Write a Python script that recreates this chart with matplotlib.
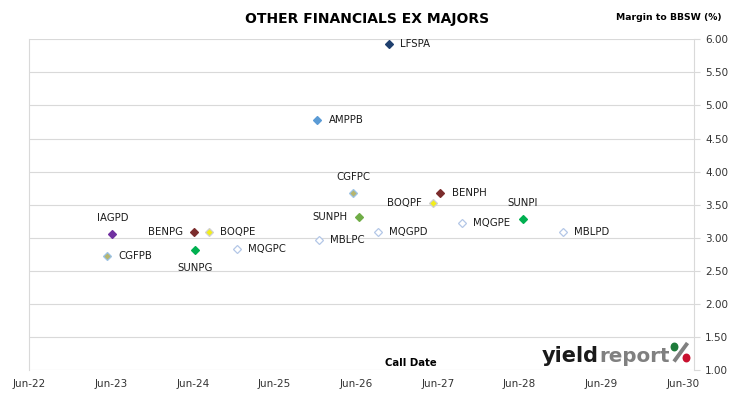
import matplotlib
matplotlib.use("Agg")
import matplotlib.pyplot as plt
import matplotlib.dates as mdates
from matplotlib.patches import Ellipse
from matplotlib.lines import Line2D
import datetime as dt

# ---- data ----
names = ["LFSPA", "AMPPB", "CGFPC", "BENPH", "BOQPF", "SUNPH", "SUNPI", "MQGPE",
         "MBLPD", "MQGPD", "MBLPC", "IAGPD", "BENPG", "BOQPE", "SUNPG", "MQGPC", "CGFPB"]
call_dates = ["2026-10-24", "2025-12-10", "2026-05-20", "2027-06-13", "2027-05-12",
              "2026-06-14", "2028-06-16", "2027-09-19", "2028-12-10", "2026-09-08",
              "2025-12-18", "2023-06-07", "2024-06-08", "2024-08-12", "2024-06-13",
              "2024-12-17", "2023-05-14"]
margins = [5.93, 4.78, 3.68, 3.68, 3.53, 3.32, 3.29, 3.23, 3.09, 3.09, 2.97,
           3.06, 3.09, 3.09, 2.81, 2.83, 2.72]
label_pos = ["right", "right", "above", "right", "left", "left", "above", "right",
             "right", "right", "right", "above", "left", "right", "below", "right", "right"]
y_ticks = [1.0, 1.5, 2.0, 2.5, 3.0, 3.5, 4.0, 4.5, 5.0, 5.5, 6.0]
x_tick_years = [2022, 2023, 2024, 2025, 2026, 2027, 2028, 2029, 2030]

# styles per issuer prefix
face = {"LFS": "#1F3F6E", "AMP": "#5B9BD5", "CGF": "#B5B56E", "BEN": "#7B2C2C",
        "BOQ": "#F2EE1A", "SUNPH": "#70AD47", "SUN": "#00B050", "MQG": "white",
        "MBL": "white", "IAG": "#7030A0"}
edge = {"LFS": "#1F3F6E", "AMP": "#5B9BD5", "CGF": "#9DC3E6", "BEN": "#7B2C2C",
        "BOQ": "#D0D0D0", "SUNPH": "#70AD47", "SUN": "#00B050", "MQG": "#B4C7E7",
        "MBL": "#B4C7E7", "IAG": "#7030A0"}

W, H = 730, 399
fig = plt.figure(figsize=(W / 100, H / 100), dpi=100)
ax = fig.add_axes([29.3 / W, 1 - 370 / H, (694.3 - 29.3) / W, (370 - 39.3) / H])

plt.rcParams['font.family'] = ['DejaVu Sans']

dates = [dt.datetime.strptime(d, "%Y-%m-%d") for d in call_dates]
for n, d, m, p in zip(names, dates, margins, label_pos):
    key = n if n in face else n[:3]
    ax.plot([d], [m], marker="D", ms=4.3, mfc=face[key], mec=edge[key], mew=0.9,
            ls="none", zorder=3)
    if p == "right":
        off, ha, va = (8, 0), "left", "center"
    elif p == "left":
        off, ha, va = (-8.5, 0), "right", "center"
    elif p == "above":
        off, ha, va = (0, 11.5), "center", "center"
    else:
        off, ha, va = (0, -12.5), "center", "center"
    ax.annotate(n, (d, m), xytext=off, textcoords="offset points", ha=ha, va=va,
                fontsize=7.3, color="#1a1a1a")

ax.set_ylim(1.0, 6.0)
ax.set_xlim(dt.datetime(2022, 6, 1), dt.datetime(2030, 7, 22))
ax.set_yticks(y_ticks)
ax.set_yticklabels([f"{v:.2f}" for v in y_ticks])
ax.set_xticks([dt.datetime(y, 6, 1) for y in x_tick_years])
ax.xaxis.set_major_formatter(mdates.DateFormatter("%b-%y"))

ax.yaxis.tick_right()
ax.tick_params(axis="y", direction="out", length=4.3, width=0.8, color="#D9D9D9",
               pad=3.5, labelsize=7.5, labelcolor="#333333")
ax.tick_params(axis="x", length=0, pad=6.5, labelsize=7.5, labelcolor="#333333")
ax.grid(axis="y", color="#D9D9D9", lw=0.8)
ax.set_axisbelow(True)
for s in ["top", "bottom"]:
    ax.spines[s].set_visible(False)
for s in ["left", "right"]:
    ax.spines[s].set_color("#D9D9D9")
    ax.spines[s].set_linewidth(0.8)

def fx(x):
    return x / W

def fy(y):
    return 1 - y / H

fig.text(fx(367.5), fy(19), "OTHER FINANCIALS EX MAJORS", ha="center", va="center",
         fontsize=10, fontweight="bold", color="black")
fig.text(fx(669), fy(17.5), "Margin to BBSW (%)", ha="center", va="center",
         fontsize=6.7, fontweight="bold", color="black")
fig.text(fx(411), fy(363), "Call Date", ha="center", va="center",
         fontsize=7.3, fontweight="bold", color="black")

# logo
fig.canvas.draw()
r = fig.canvas.get_renderer()
t1 = fig.text(fx(542), fy(361.5), "yield", ha="left", va="baseline", fontsize=15,
              fontweight="bold", color="#1a1a1a")
bb = t1.get_window_extent(r)
t2 = fig.text(bb.x1 / W, fy(361.5), "report", ha="left", va="baseline", fontsize=14.3,
              fontweight="bold", color="#808080")
fig.add_artist(Line2D([fx(674), fx(687.5)], [fy(361.5), fy(343)], color="#808080",
                      lw=2.8, solid_capstyle="butt", transform=fig.transFigure))
fig.add_artist(Ellipse((fx(674.5), fy(347)), 6.5 / W, 7.5 / H, color="#1E7B3A",
                       transform=fig.transFigure))
fig.add_artist(Ellipse((fx(686.5), fy(358)), 6.5 / W, 7.5 / H, color="#C8102E",
                       transform=fig.transFigure))

fig.savefig("out.png", dpi=100)
